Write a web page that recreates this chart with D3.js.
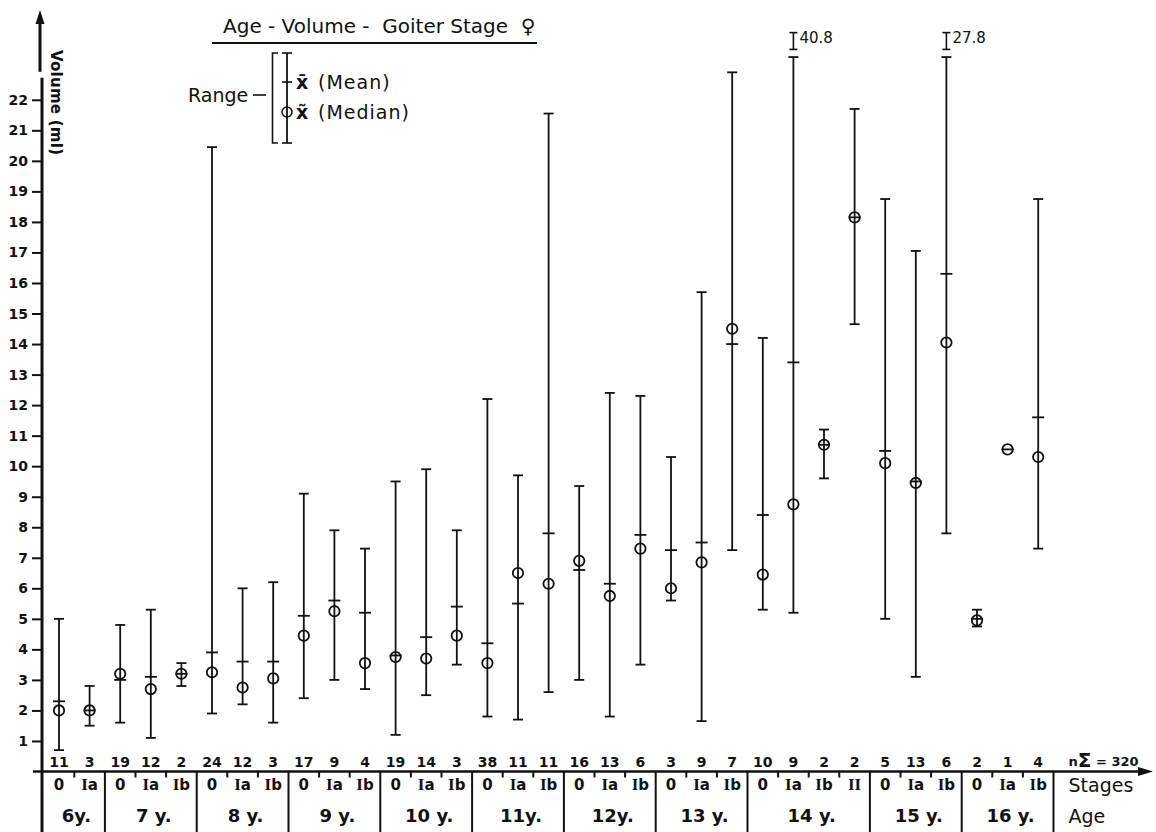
<!DOCTYPE html>
<html><head><meta charset="utf-8">
<script src="https://cdn.jsdelivr.net/npm/d3@7"></script>
<style>
body{margin:0;background:#fff}
svg{display:block}
text{font-family:"DejaVu Sans","Liberation Sans",sans-serif;fill:#111}
</style>
</head><body>
<svg id="c" width="1156" height="832"></svg>
<script>
// ---------- data ----------
const ageLabels = ["6y.","7 y.","8 y.","9 y.","10 y.","11y.","12y.","13 y.","14 y.","15 y.","16 y."];
const stageGroups = [["0","Ia"],["0","Ia","Ib"],["0","Ia","Ib"],["0","Ia","Ib"],["0","Ia","Ib"],["0","Ia","Ib"],["0","Ia","Ib"],["0","Ia","Ib"],["0","Ia","Ib","II"],["0","Ia","Ib"],["0","Ia","Ib"]];
const counts = [11,3,19,12,2,24,12,3,17,9,4,19,14,3,38,11,11,16,13,6,3,9,7,10,9,2,2,5,13,6,2,1,4];
const minVals = [0.7,1.5,1.6,1.1,2.8,1.9,2.2,1.6,2.4,3.0,2.7,1.2,2.5,3.5,1.8,1.7,2.6,3.0,1.8,3.5,5.6,1.65,7.25,5.3,5.2,9.6,14.65,5.0,3.1,7.8,4.75,null,7.3];
const maxVals = [5.0,2.8,4.8,5.3,3.55,20.45,6.0,6.2,9.1,7.9,7.3,9.5,9.9,7.9,12.2,9.7,21.55,9.35,12.4,12.3,10.3,15.7,22.9,14.2,40.8,11.2,21.7,18.75,17.05,27.8,5.3,null,18.75];
const meanVals = [2.3,2.0,3.0,3.1,3.2,3.9,3.6,3.6,5.1,5.6,5.2,3.8,4.4,5.4,4.2,5.5,7.8,6.6,6.15,7.75,7.25,7.5,14.0,8.4,13.4,10.7,18.15,10.5,9.5,16.3,5.0,10.55,11.6];
const medianVals = [2.0,2.0,3.2,2.7,3.2,3.25,2.75,3.05,4.45,5.25,3.55,3.75,3.7,4.45,3.55,6.5,6.15,6.9,5.75,7.3,6.0,6.85,14.5,6.45,8.75,10.7,18.15,10.1,9.45,14.05,4.95,10.55,10.3];
const yTicks = d3.range(1, 23);
const totalN = 320;

// ---------- setup ----------
const W = 1156, H = 832, ink = "#111";
const svg = d3.select("#c");
const x = d3.scalePoint().domain(d3.range(counts.length)).range([59, 1038.2]);
const y = d3.scaleLinear().domain([0, 22]).range([771.5, 99.8]);
const step = x.step();
const y0 = y(0);
const axisX = 42;
const capTop = 23.4;   // visual cut-off for very long ranges

const cats = [];
stageGroups.forEach((g, gi) => g.forEach((s, si) => cats.push({stage: s, group: gi, last: si === g.length - 1})));

// ---------- axes ----------
const gy = svg.append("g").attr("transform", `translate(${axisX},0)`)
  .call(d3.axisLeft(y).tickValues(yTicks).tickSize(10).tickPadding(4).tickFormat(d3.format("d")));
gy.select(".domain").remove();
gy.selectAll(".tick line").attr("stroke", ink).attr("stroke-width", 2);
gy.selectAll(".tick text").attr("font-size", 14).attr("font-weight", "bold")
  .attr("fill", ink).style("font-family", '"DejaVu Sans",sans-serif');

svg.append("line").attr("x1", axisX).attr("x2", axisX).attr("y1", y(22) - 22).attr("y2", H)
  .attr("stroke", ink).attr("stroke-width", 3);
// upper arrow of y axis
svg.append("line").attr("x1", axisX - 2).attr("x2", axisX - 2).attr("y1", y(22) - 28).attr("y2", 18)
  .attr("stroke", ink).attr("stroke-width", 3);
svg.append("path").attr("d", `M${axisX-2},10 L${axisX-6.5},24 L${axisX+2.5},24 Z`).attr("fill", ink);

svg.append("text").attr("transform", `translate(${axisX + 7},50) rotate(90)`)
  .attr("font-size", 15).attr("font-weight", "bold").attr("textLength", 105).attr("lengthAdjust", "spacing")
  .attr("dy", "-0.1em").text("Volume  (ml)");

// x axis with arrow
svg.append("line").attr("x1", 33).attr("x2", 1142).attr("y1", y0).attr("y2", y0)
  .attr("stroke", ink).attr("stroke-width", 2.5);
svg.append("path").attr("d", `M1153,${y0} L1138,${y0-4.5} L1138,${y0+4.5} Z`).attr("fill", ink);

// ---------- table below the axis ----------
svg.append("g").selectAll("line").data(cats.map((c, i) => i).filter(i => cats[i].last)).join("line")
  .attr("x1", i => x(i) + step / 2).attr("x2", i => x(i) + step / 2)
  .attr("y1", y0).attr("y2", H).attr("stroke", ink).attr("stroke-width", 2);
svg.append("g").selectAll("line").data(cats.map((c, i) => i).filter(i => !cats[i].last)).join("line")
  .attr("x1", i => x(i) + step / 2).attr("x2", i => x(i) + step / 2)
  .attr("y1", y0).attr("y2", y0 + 6).attr("stroke", ink).attr("stroke-width", 2);

// counts
svg.append("g").selectAll("text").data(counts).join("text")
  .attr("x", (d, i) => x(i)).attr("y", 762).attr("dy", "0.36em").attr("text-anchor", "middle")
  .attr("font-size", 14).attr("font-weight", "bold").text(d => d);

// stage labels (roman numeral I in serif)
const st = svg.append("g").selectAll("text").data(cats).join("text")
  .attr("x", (d, i) => x(i)).attr("y", 785).attr("dy", "0.36em").attr("text-anchor", "middle")
  .attr("font-size", 15).attr("font-weight", "bold");
st.each(function(d) {
  const t = d3.select(this);
  if (d.stage === "0") { t.text("0"); return; }
  const romans = d.stage.replace(/[a-z]/g, "");
  const rest = d.stage.replace(/I/g, "");
  t.append("tspan").style("font-family", '"Liberation Serif",serif').attr("font-size", 17).text(romans);
  if (rest) t.append("tspan").text(rest);
});

// age labels
const groupStart = [];
let acc = 0;
stageGroups.forEach(g => { groupStart.push(acc); acc += g.length; });
svg.append("g").selectAll("text").data(ageLabels).join("text")
  .attr("x", (d, gi) => {
    const a = groupStart[gi], b = a + stageGroups[gi].length - 1;
    const left = gi === 0 ? axisX : x(a) - step / 2;
    return (left + x(b) + step / 2) / 2 + 3;
  })
  .attr("y", 816).attr("dy", "0.36em").attr("text-anchor", "middle")
  .attr("font-size", 18).attr("font-weight", "bold").text(d => d);

const rightX = x(counts.length - 1) + step / 2 + 15;
svg.append("text").attr("x", rightX).attr("y", 785).attr("dy", "0.36em").attr("font-size", 19).text("Stages");
svg.append("text").attr("x", rightX).attr("y", 816).attr("dy", "0.36em").attr("font-size", 19).text("Age");
const nt = svg.append("text").attr("x", rightX).attr("y", 761).attr("dy", "0.36em").attr("font-size", 13).attr("font-weight", "bold");
nt.append("tspan").text("n");
nt.append("tspan").attr("font-size", 20).attr("dy", "0.05em").text("Σ");
nt.append("tspan").attr("dy", "-0.05em").text(" = " + totalN);

// ---------- data marks ----------
const data = counts.map((n, i) => ({i, n, min: minVals[i], max: maxVals[i], mean: meanVals[i], med: medianVals[i]}));
const ranged = data.filter(d => d.min != null && d.max != null);
const marks = svg.append("g").attr("stroke", ink).attr("stroke-width", 1.8).attr("fill", "none");

marks.selectAll(".rng").data(ranged).join("line").attr("class", "rng")
  .attr("x1", d => x(d.i)).attr("x2", d => x(d.i))
  .attr("y1", d => y(d.min)).attr("y2", d => y(Math.min(d.max, capTop)));
marks.selectAll(".capTop").data(ranged).join("line").attr("class", "capTop")
  .attr("x1", d => x(d.i) - 5).attr("x2", d => x(d.i) + 5)
  .attr("y1", d => y(Math.min(d.max, capTop))).attr("y2", d => y(Math.min(d.max, capTop)));
marks.selectAll(".capBot").data(ranged).join("line").attr("class", "capBot")
  .attr("x1", d => x(d.i) - 5).attr("x2", d => x(d.i) + 5)
  .attr("y1", d => y(d.min)).attr("y2", d => y(d.min));
marks.selectAll(".mean").data(data).join("line").attr("class", "mean")
  .attr("x1", d => x(d.i) - 6).attr("x2", d => x(d.i) + 6)
  .attr("y1", d => y(d.mean)).attr("y2", d => y(d.mean));
marks.selectAll(".med").data(data).join("circle").attr("class", "med")
  .attr("cx", d => x(d.i)).attr("cy", d => y(d.med)).attr("r", 5.2);

// broken ranges: small symbol + real maximum
const broken = data.filter(d => d.max != null && d.max > capTop);
const bk = svg.append("g").attr("stroke", ink).attr("stroke-width", 1.6);
broken.forEach(d => {
  const cx = x(d.i), ya = y(24.2), yb = y(23.65);
  bk.append("line").attr("x1", cx).attr("x2", cx).attr("y1", ya).attr("y2", yb);
  bk.append("line").attr("x1", cx - 4).attr("x2", cx + 4).attr("y1", ya).attr("y2", ya);
  bk.append("line").attr("x1", cx - 4).attr("x2", cx + 4).attr("y1", yb).attr("y2", yb);
  svg.append("text").attr("x", cx + 6).attr("y", y(24.2) + 10).attr("font-size", 15)
    .text(d3.format(".1f")(d.max));
});

// ---------- title & legend ----------
svg.append("text").attr("x", 223).attr("y", 33).attr("font-size", 20).attr("xml:space", "preserve")
  .text("Age - Volume -  Goiter Stage  \u2640");
svg.append("line").attr("x1", 212).attr("x2", 537).attr("y1", 43).attr("y2", 43).attr("stroke", ink).attr("stroke-width", 2);

svg.append("text").attr("x", 188).attr("y", 95).attr("dy", "0.36em").attr("font-size", 19).text("Range");
const lg = svg.append("g").attr("stroke", ink).attr("stroke-width", 1.6).attr("fill", "none");
lg.append("line").attr("x1", 253).attr("x2", 266).attr("y1", 95).attr("y2", 95);
lg.append("path").attr("d", "M278,53 L272.5,53 L272.5,143 L278,143");
lg.append("line").attr("x1", 287).attr("x2", 287).attr("y1", 53).attr("y2", 143).attr("stroke-width", 1.8);
lg.append("line").attr("x1", 282).attr("x2", 292).attr("y1", 53).attr("y2", 53);
lg.append("line").attr("x1", 282).attr("x2", 292).attr("y1", 143).attr("y2", 143);
lg.append("line").attr("x1", 282).attr("x2", 292).attr("y1", 82).attr("y2", 82);
lg.append("circle").attr("cx", 287).attr("cy", 112).attr("r", 5);
const lt1 = svg.append("text").attr("x", 296).attr("y", 82).attr("dy", "0.36em").attr("font-size", 19).attr("xml:space", "preserve");
lt1.append("tspan").attr("font-weight", "bold").text("x\u0304");
lt1.append("tspan").attr("x", 318).attr("letter-spacing", 1).text("(Mean)");
const lt2 = svg.append("text").attr("x", 296).attr("y", 112).attr("dy", "0.36em").attr("font-size", 19).attr("xml:space", "preserve");
lt2.append("tspan").attr("font-weight", "bold").text("x\u0303");
lt2.append("tspan").attr("x", 318).attr("letter-spacing", 1).text("(Median)");
</script>
</body></html>
